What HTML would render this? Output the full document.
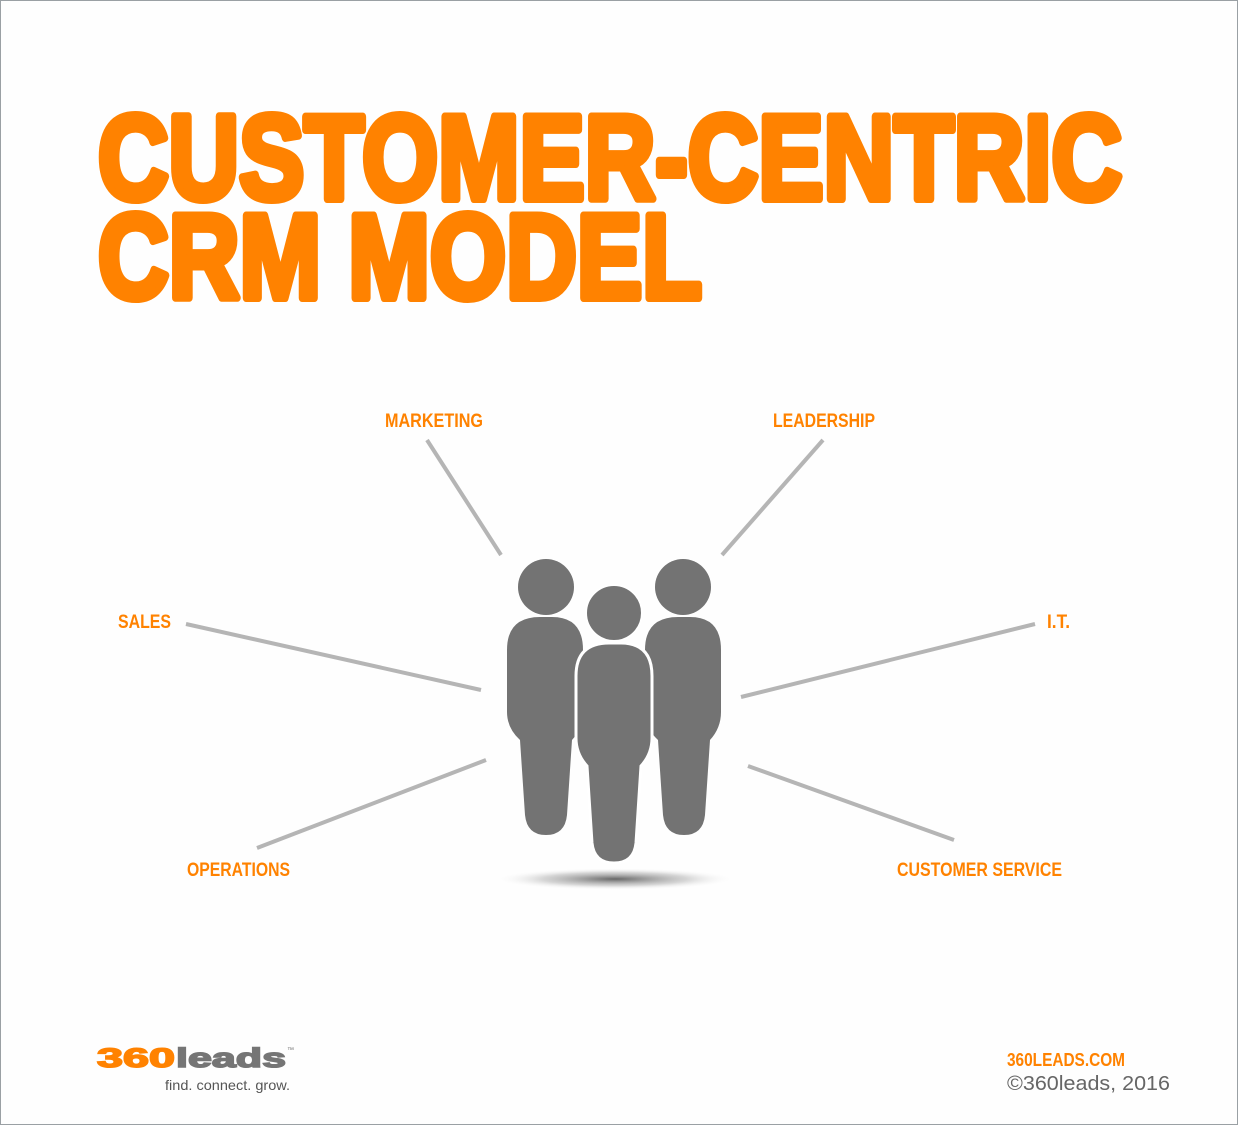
<!DOCTYPE html>
<html><head><meta charset="utf-8"><style>
html,body{margin:0;padding:0;background:#fff}
svg{display:block}
</style></head><body>
<svg width="1238" height="1125" viewBox="0 0 1238 1125" xmlns="http://www.w3.org/2000/svg">
<defs>
<radialGradient id="sh" cx="0.5" cy="0.5" r="0.5">
<stop offset="0" stop-color="#555" stop-opacity="0.9"/>
<stop offset="0.6" stop-color="#999" stop-opacity="0.4"/>
<stop offset="1" stop-color="#fff" stop-opacity="0"/>
</radialGradient>
</defs>
<rect x="0.5" y="0.5" width="1237" height="1124" fill="#fefefe" stroke="#9aa0a4"/>
<g font-family="Liberation Sans, Arial, sans-serif" font-weight="bold" fill="#ff8200" stroke="#ff8200" stroke-width="8" stroke-linejoin="round">
<text x="98" y="199" font-size="120" textLength="1024" lengthAdjust="spacingAndGlyphs">CUSTOMER-CENTRIC</text>
<text x="98" y="298" font-size="120" textLength="604" lengthAdjust="spacingAndGlyphs">CRM MODEL</text>
</g>
<g font-family="Liberation Sans, Arial, sans-serif" font-weight="bold" fill="#ff8200" font-size="19">
<text x="385" y="427" textLength="98" lengthAdjust="spacingAndGlyphs">MARKETING</text>
<text x="773" y="427" textLength="102" lengthAdjust="spacingAndGlyphs">LEADERSHIP</text>
<text x="118" y="628" textLength="53" lengthAdjust="spacingAndGlyphs">SALES</text>
<text x="1047" y="628" textLength="23" lengthAdjust="spacingAndGlyphs">I.T.</text>
<text x="187" y="876" textLength="103" lengthAdjust="spacingAndGlyphs">OPERATIONS</text>
<text x="897" y="876" textLength="165" lengthAdjust="spacingAndGlyphs">CUSTOMER SERVICE</text>
<text x="1007" y="1066" font-size="18" textLength="118" lengthAdjust="spacingAndGlyphs">360LEADS.COM</text>
</g>
<g stroke="#b5b5b5" stroke-width="4">
<line x1="427" y1="440" x2="501" y2="555"/>
<line x1="823" y1="440" x2="722" y2="555"/>
<line x1="186" y1="624" x2="481" y2="690"/>
<line x1="1035" y1="624" x2="741" y2="697"/>
<line x1="486" y1="760" x2="257" y2="848"/>
<line x1="748" y1="766" x2="954" y2="840"/>
</g>
<ellipse cx="615" cy="879" rx="120" ry="11" fill="url(#sh)"/>
<g fill="#737373">
<circle cx="546" cy="587" r="28"/>
<path d="M507 650 Q507 617 540 617 L552 617 Q583 617 583 650 L583 712 Q583 728 572 740 L567 815 Q565 835 546 835 Q527 835 525 815 L520 740 Q507 728 507 712 Z"/>
<circle cx="683" cy="587" r="28"/>
<path d="M645 650 Q645 617 678 617 L690 617 Q721 617 721 650 L721 712 Q721 728 710 740 L705 815 Q703 835 684 835 Q665 835 663 815 L658 740 Q645 728 645 712 Z"/>
<circle cx="614" cy="613" r="28" stroke="#fff" stroke-width="2"/>
<path d="M576 676 Q576 643 609 643 L621 643 Q652 643 652 676 L652 738 Q652 754 641 766 L636 843 Q634 863 614 863 Q594 863 592 843 L587 766 Q576 754 576 738 Z" stroke="#fff" stroke-width="3"/>
</g>
<g font-family="Liberation Sans, Arial, sans-serif" font-weight="bold" font-size="27" stroke-width="1.5">
<text x="97" y="1067" fill="#ff8200" stroke="#ff8200" textLength="78" lengthAdjust="spacingAndGlyphs">360</text>
<text x="176" y="1067" fill="#757575" stroke="#757575" textLength="110" lengthAdjust="spacingAndGlyphs">leads</text>
</g>
<text x="287" y="1052" font-family="Liberation Sans, Arial, sans-serif" font-size="7" fill="#777">™</text>
<text x="165" y="1090" font-family="Liberation Sans, Arial, sans-serif" font-size="14" fill="#555" textLength="125" lengthAdjust="spacingAndGlyphs">find. connect. grow.</text>
<text x="1007" y="1090" font-family="Liberation Sans, Arial, sans-serif" font-size="20" fill="#666" textLength="163" lengthAdjust="spacingAndGlyphs">©360leads, 2016</text>
</svg>
</body></html>
